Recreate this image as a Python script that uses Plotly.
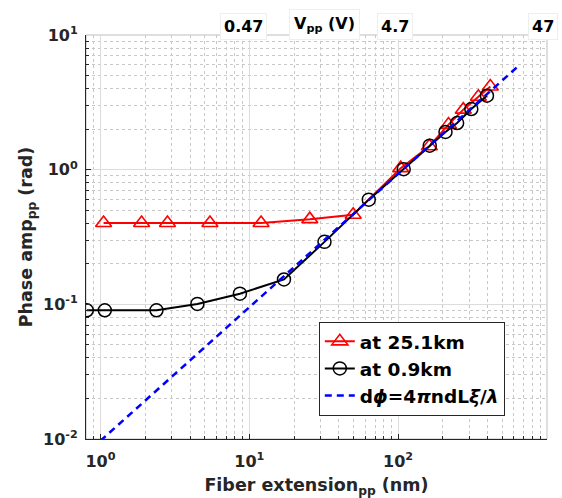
import numpy as np
import plotly.graph_objects as go

# ---- data ----
red_x = [1.05, 1.89, 2.82, 5.44, 12.0, 25.5, 49.9, 104, 162, 218, 274, 346, 416]
red_y = [0.402, 0.402, 0.402, 0.402, 0.402, 0.429, 0.463, 1.026, 1.494, 2.16, 2.79, 3.48, 4.15]

black_x = [0.81, 1.07, 2.38, 4.48, 8.65, 17.1, 32.0, 63.5, 109, 163, 208, 249, 310, 395]
black_y = [0.0903, 0.0903, 0.0903, 0.1007, 0.120, 0.153, 0.291, 0.599, 1.009, 1.507, 1.905, 2.22, 2.82, 3.54]

model_x = [1.0, 660]
model_y = [0.0097, 6.05]

x_tickvals = [1, 10, 100, 1000]
x_ticktext = ["10<sup>0</sup>", "10<sup>1</sup>", "10<sup>2</sup>", "10<sup>3</sup>"]
y_tickvals = [0.01, 0.1, 1, 10]
y_ticktext = ["10<sup>-2</sup>", "10<sup>-1</sup>", "10<sup>0</sup>", "10<sup>1</sup>"]

top_pos = [10, 100, 1000]
top_labels = ["0.47", "4.7", "47"]
top_title = "V<sub>pp</sub> (V)"
top_title_pos = 31.8

names = ["at 25.1km", "at 0.9km", "d<i>ϕ</i>=4<i>π</i>ndL<i>ξ</i>/<i>λ</i>"]

FONT = "DejaVu Sans"
AX = "#262626"

fig = go.Figure()
fig.add_trace(go.Scatter(
    x=red_x, y=red_y, mode="lines+markers", name=names[0],
    line=dict(color="#ff0000", width=2),
    marker=dict(symbol="triangle-up-open", size=14, color="#ff0000", line=dict(width=1.6)),
))
fig.add_trace(go.Scatter(
    x=black_x, y=black_y, mode="lines+markers", name=names[1],
    line=dict(color="#000000", width=2),
    marker=dict(symbol="circle-open", size=13, color="#000000", line=dict(width=1.5)),
))
fig.add_trace(go.Scatter(
    x=model_x, y=model_y, mode="lines", name=names[2],
    line=dict(color="#0000ff", width=2.5, dash="7px,5px"),
))

minor_x = [m * 10 ** k for k in range(-1, 3) for m in range(2, 10)]
minor_y = [m * 10 ** k for k in range(-2, 1) for m in range(2, 10)]

axis_common = dict(
    type="log", showline=True, linecolor=AX, linewidth=1,
    ticks="inside", ticklen=5, tickcolor=AX, mirror=False,
    showgrid=True, gridcolor="#dcdcdc", gridwidth=1,
    zeroline=False, automargin=False,
    tickfont=dict(family=FONT, size=16, color=AX, weight="bold"),
    title_font=dict(family=FONT, size=17.5, color=AX, weight="bold"),
)

fig.update_xaxes(
    **axis_common,
    range=[np.log10(0.8), 3],
    tickvals=x_tickvals, ticktext=x_ticktext, ticklabelstandoff=8,
    title_text="Fiber extension<sub>pp</sub> (nm)", title_standoff=10,
    minor=dict(tickvals=minor_x, ticks="inside", ticklen=3, tickcolor=AX,
               showgrid=True, gridcolor="#c8c8c8", griddash="dot", gridwidth=1),
)
fig.update_yaxes(
    **axis_common,
    range=[-2, 1],
    tickvals=y_tickvals, ticktext=y_ticktext, ticklabelstandoff=4,
    title_text="Phase amp<sub>pp</sub> (rad)", title_standoff=5,
    minor=dict(tickvals=minor_y, ticks="inside", ticklen=3, tickcolor=AX,
               showgrid=True, gridcolor="#c8c8c8", griddash="dot", gridwidth=1),
)

# light box around axes (top/right)
fig.add_shape(type="rect", xref="paper", yref="paper", x0=0, x1=1, y0=0, y1=1,
              line=dict(color="#bdbdbd", width=1), layer="below")

# top "Vpp" labels: positioned in paper fraction of the x-axis range
xr0, xr1 = np.log10(0.8), 3.0
annots = []
for pos, lab, shift in zip(top_pos, top_labels, [-6, -3, -4]):
    px = (np.log10(pos) - xr0) / (xr1 - xr0)
    annots.append(dict(
        x=px, xref="paper", y=1.022, yref="paper", xshift=shift,
        text="<b>" + lab + "</b>", showarrow=False, xanchor="center", yanchor="middle",
        font=dict(family=FONT, size=16, color="#000000"),
        bgcolor="#ffffff", bordercolor="#eeeeee", borderwidth=1, borderpad=3,
    ))
annots.append(dict(
    x=(np.log10(top_title_pos) - xr0) / (xr1 - xr0), xref="paper", y=1.026, yref="paper",
    text="<b>" + top_title + "</b>", showarrow=False, xanchor="center", yanchor="middle",
    font=dict(family=FONT, size=16, color="#000000"),
    bgcolor="#ffffff", bordercolor="#eeeeee", borderwidth=1, borderpad=4,
))

fig.update_layout(
    width=562, height=498,
    margin=dict(l=86, r=15, t=35, b=59, autoexpand=False),
    plot_bgcolor="#ffffff", paper_bgcolor="#ffffff",
    font=dict(family=FONT, color=AX),
    annotations=annots,
    showlegend=True,
    legend=dict(
        x=0.505, y=0.29, xanchor="left", yanchor="top",
        bgcolor="#ffffff", bordercolor=AX, borderwidth=1,
        font=dict(family=FONT, size=18.5, color="#000000", weight="bold"),
        tracegroupgap=0, itemwidth=30,
    ),
)

fig.write_html(
    "out.html",
    config={"displayModeBar": False},
    post_script="document.body.style.margin='0';document.body.style.overflow='hidden';",
)
